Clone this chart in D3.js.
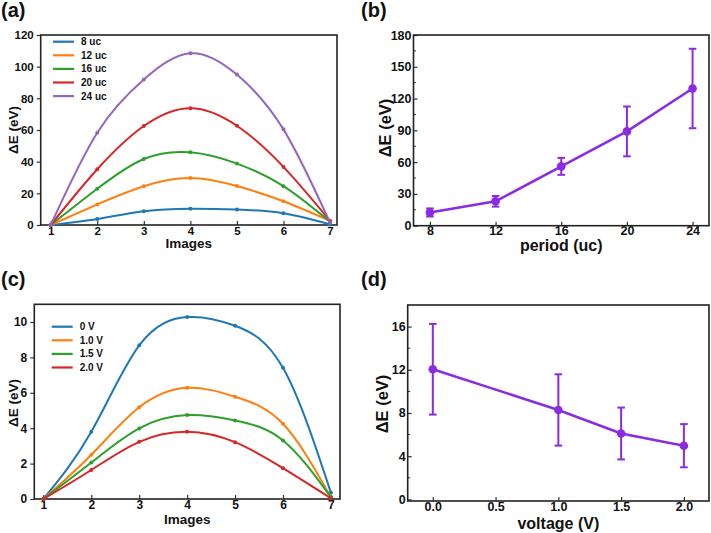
<!DOCTYPE html>
<html><head><meta charset="utf-8">
<script src="https://cdn.jsdelivr.net/npm/d3@7"></script>
<style>
body{margin:0;background:#fff;}
text{font-family:"Liberation Sans",Arial,sans-serif;font-weight:bold;fill:#111;}
</style></head>
<body><svg id="c" width="711" height="533"></svg>
<script>
// ---- data ----
const images = [1,2,3,4,5,6,7];
const periodNames = ["8 uc","12 uc","16 uc","20 uc","24 uc"];
const uc8  = [0, 3.8, 8.7, 10.3, 9.8, 7.4, 0.35];
const uc12 = [0, 13.0, 24.5, 29.7, 24.6, 15.0, 2.6];
const uc16 = [0, 22.9, 41.7, 45.9, 38.8, 24.5, 2.0];
const uc20 = [0, 35.2, 62.5, 73.8, 62.7, 36.7, 2.6];
const uc24 = [0, 58.3, 91.9, 108.5, 95.0, 60.4, 1.5];

const voltageNames = ["0 V","1.0 V","1.5 V","2.0 V"];
const v00 = [0, 3.80, 8.68, 10.28, 9.79, 7.41, 0.36];
const v10 = [0, 2.50, 5.18, 6.28, 5.78, 4.25, 0.10];
const v15 = [0, 2.06, 3.99, 4.74, 4.44, 3.31, 0.10];
const v20 = [0, 1.64, 3.23, 3.80, 3.21, 1.74, 0.04];

const periods = [8, 12, 16, 20, 24];
const barrierB = [12.5, 23, 56, 89, 129.5];
const errB = [3.8, 5, 8, 23.5, 37.5];

const voltages = [0, 1.0, 1.5, 2.0];
const barrierD = [12.05, 8.28, 6.1, 4.97];
const errD = [4.2, 3.3, 2.4, 2.0];

const ticksA = [0,20,40,60,80,100,120];
const ticksB = [0,30,60,90,120,150,180];
const ticksC = [0,2,4,6,8,10];
const ticksD = [0,4,8,12,16];
const xticksD = [0,0.5,1.0,1.5,2.0];

const colors = ["#1f77b4","#ff7f0e","#2ca02c","#d62728","#9467bd"];
const purple = "#8B2BE2";

const svg = d3.select("#c");

function panel(o){
  const g = svg.append("g");
  const x = d3.scaleLinear().domain(o.xd).range([o.l, o.r]);
  const y = d3.scaleLinear().domain(o.yd).range([o.b, o.t]);
  const ax = g.append("g").attr("transform",`translate(0,${o.b})`)
    .call(d3.axisBottom(x).tickValues(o.xt).tickSizeInner(-4).tickSizeOuter(0).tickPadding(o.xpad).tickFormat(o.xf||d3.format("d")));
  const ay = g.append("g").attr("transform",`translate(${o.l},0)`)
    .call(d3.axisLeft(y).tickValues(o.yt).tickSizeInner(o.ytick).tickSizeOuter(0).tickPadding(o.ypad).tickFormat(d3.format("d")));
  [ax,ay].forEach(a=>{a.select(".domain").remove();
    a.selectAll("line").attr("stroke","#333").attr("stroke-width",1.2);
    a.selectAll("text").attr("font-size",o.tfs).attr("font-family","Liberation Sans, Arial, sans-serif").attr("font-weight","bold").attr("fill","#111");});
  if(o.minor){
    g.append("g").selectAll("line").data(o.minor).join("line")
      .attr("x1",o.l).attr("x2",o.l+2.5).attr("y1",d=>y(d)).attr("y2",d=>y(d))
      .attr("stroke","#333").attr("stroke-width",1);
  }
  g.append("rect").attr("x",o.l).attr("y",o.t).attr("width",o.r-o.l).attr("height",o.b-o.t)
    .attr("fill","none").attr("stroke","#222").attr("stroke-width",1.6);
  g.append("text").attr("x",(o.l+o.r)/2 + (o.xtdx||0)).attr("y",o.xty).attr("text-anchor","middle")
    .attr("font-size",o.afs).text(o.xlabel);
  g.append("text").attr("transform",`translate(${o.ytx},${o.yty}) rotate(-90)`).attr("text-anchor","middle")
    .attr("font-size",o.yfs||o.afs).text("ΔE (eV)");
  g.append("text").attr("x",o.px).attr("y",o.py).attr("font-size",20).text(o.tag);
  return {g,x,y};
}

function curves(p, series, names, lx, ly){
  const line = d3.line().x((d,i)=>p.x(images[i])).y(d=>p.y(d)).curve(d3.curveNatural);
  series.forEach((s,k)=>{
    p.g.append("path").attr("d",line(s)).attr("fill","none").attr("stroke",colors[k]).attr("stroke-width",2);
    p.g.append("g").selectAll("circle").data(s).join("circle")
      .attr("cx",(d,i)=>p.x(images[i])).attr("cy",d=>p.y(d)).attr("r",2).attr("fill",colors[k]);
    const yy = ly + k*13.6;
    p.g.append("line").attr("x1",lx).attr("x2",lx+21).attr("y1",yy).attr("y2",yy).attr("stroke",colors[k]).attr("stroke-width",2.2);
    p.g.append("text").attr("x",lx+28).attr("y",yy+3.5).attr("font-size",10).text(names[k]);
  });
}

function errs(p, xs, ys, es){
  const line = d3.line().x((d,i)=>p.x(xs[i])).y(d=>p.y(d));
  p.g.append("path").attr("d",line(ys)).attr("fill","none").attr("stroke",purple).attr("stroke-width",2.5);
  const eg = p.g.append("g").attr("stroke",purple).attr("stroke-width",2);
  ys.forEach((v,i)=>{
    const cx = p.x(xs[i]);
    eg.append("line").attr("x1",cx).attr("x2",cx).attr("y1",p.y(v-es[i])).attr("y2",p.y(v+es[i]));
    eg.append("line").attr("x1",cx-3.8).attr("x2",cx+3.8).attr("y1",p.y(v-es[i])).attr("y2",p.y(v-es[i]));
    eg.append("line").attr("x1",cx-3.8).attr("x2",cx+3.8).attr("y1",p.y(v+es[i])).attr("y2",p.y(v+es[i]));
  });
  p.g.append("g").selectAll("circle").data(ys).join("circle")
    .attr("cx",(d,i)=>p.x(xs[i])).attr("cy",d=>p.y(d)).attr("r",4.3).attr("fill",purple);
}

// (a)
const pa = panel({l:40.7,r:337,t:35,b:225,xd:[0.785,7.15],yd:[0,120],xt:images,yt:ticksA,
  ytick:4,ypad:3,xpad:2,tfs:11.5,afs:13.5,xlabel:"Images",xty:248,ytx:18,yty:130,px:1,py:17,tag:"(a)"});
curves(pa,[uc8,uc12,uc16,uc20,uc24],periodNames,53,41.7);

// (b)
const pb = panel({l:413.5,r:709,t:35,b:225.7,xd:[7,25],yd:[0,180],xt:periods,yt:ticksB,minor:[15,45,75,105,135,165],
  ytick:-4,ypad:2,xpad:0,tfs:12.5,afs:16,yfs:16.5,xlabel:"period (uc)",xty:251,ytx:391,yty:128,px:361,py:17,tag:"(b)"});
errs(pb,periods,barrierB,errB);

// (c)
const pc = panel({l:34.3,r:340,t:304.3,b:499,xd:[0.81,7.19],yd:[0,11],xt:images,yt:ticksC,
  ytick:4,ypad:3,xpad:1,tfs:12,afs:13.5,xlabel:"Images",xty:524,ytx:18,yty:403,px:1,py:286,tag:"(c)"});
curves(pc,[v00,v10,v15,v20],voltageNames,51.7,326.7);

// (d)
const pd = panel({l:407.7,r:709,t:305,b:501,xd:[-0.2,2.2],yd:[-0.15,18],xt:xticksD,yt:ticksD,minor:[2,6,10,14],
  ytick:-4,ypad:2,xpad:1,tfs:12.5,afs:16,yfs:16.5,xlabel:"voltage (V)",xty:529,ytx:388,yty:404,px:361,py:286,tag:"(d)",
  xf:d3.format(".1f")});
errs(pd,voltages,barrierD,errD);
</script></body></html>
